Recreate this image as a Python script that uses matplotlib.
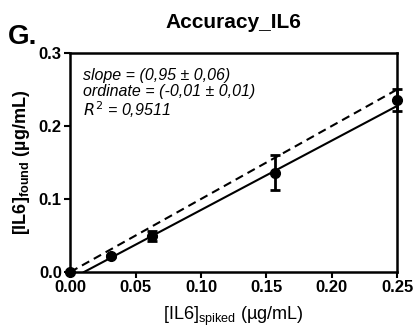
import matplotlib.pyplot as plt
import numpy as np

plt.rcParams["font.family"] = ["Liberation Sans", "DejaVu Sans"]

spiked = [0.0, 0.03125, 0.0625, 0.15625, 0.25]
found = [0.0, 0.022, 0.049, 0.136, 0.236]
found_err = [0.0, 0.002, 0.007, 0.024, 0.015]
slope = 0.95
ordinate = -0.01
xticks = [0.00, 0.05, 0.10, 0.15, 0.20, 0.25]
yticks = [0.0, 0.1, 0.2, 0.3]

fig = plt.figure(figsize=(4.15, 3.29), dpi=100)
ax = fig.add_axes([0.169, 0.173, 0.788, 0.666])

# ideal line y = x
xi = np.array([0.0, 0.25])
ax.plot(xi, xi, '--', color='k', lw=1.5, dashes=(4, 2.5))

# fitted line
x0 = -ordinate / slope
xf = np.array([x0, 0.25])
ax.plot(xf, slope * xf + ordinate, '-', color='k', lw=1.5)

ax.errorbar(spiked, found, yerr=found_err, fmt='o', color='k', ms=7,
            capsize=3.5, elinewidth=2, capthick=2, clip_on=False, zorder=5)

ax.set_xlim(0, 0.25)
ax.set_ylim(0, 0.3)
ax.set_xticks(xticks)
ax.set_yticks(yticks)
ax.set_xticklabels([f"{t:.2f}" for t in xticks], fontweight='bold', fontsize=12)
ax.set_yticklabels([f"{t:.1f}" for t in yticks], fontweight='bold', fontsize=12)
ax.tick_params(width=1.5, length=4, direction='out', pad=2)
for s in ax.spines.values():
    s.set_linewidth(1.8)

ax.set_xlabel(r"[IL6]$_{\mathregular{spiked}}$ (µg/mL)", fontsize=13, labelpad=7)
ax.set_ylabel(r"[IL6]$_{\mathregular{found}}$ (µg/mL)", fontsize=13,
              fontweight='bold', labelpad=5)
ax.set_title("Accuracy_IL6", fontsize=15, fontweight='bold', pad=18)
fig.text(0.02, 0.865, "G.", fontsize=20, fontweight='bold')

ax.text(0.04, 0.93, "slope = (0,95 ± 0,06)\nordinate = (-0,01 ± 0,01)\n$R^2$ = 0,9511",
        transform=ax.transAxes, fontsize=11.5, style='italic', va='top',
        linespacing=1.05)

plt.savefig("out.png", dpi=100)
